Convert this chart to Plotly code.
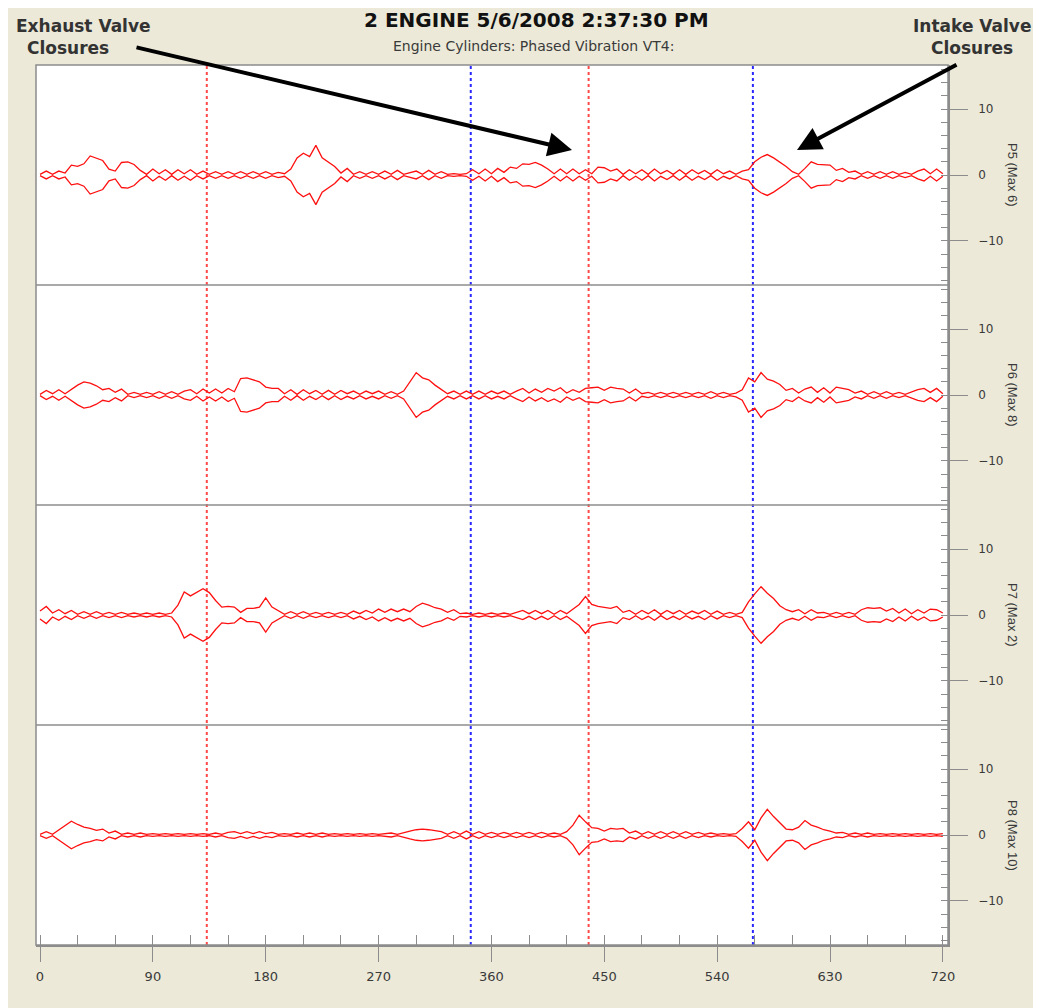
import numpy as np
import plotly.graph_objects as go
from plotly.subplots import make_subplots

# crank angle grid (degrees), one sample every 5 degrees
angle_step = 5
angles = list(range(0, 721, angle_step))

# envelope amplitudes (one value per 5 degrees, 0..720)
p5 = [0.1,0.6,0.1,0.6,0.3,1.5,1.3,1.7,2.9,2.5, 2.2,0.9,0.6,1.9,2.0,1.6,0.7,0.1,0.9,0.2,
      0.8,0.1,0.8,0.2,0.8,0.1,0.6,0.1,0.5,0.1, 0.5,0.1,0.5,0.1,0.5,0.1,0.5,0.1,0.4,0.2,
      0.9,2.6,3.3,2.8,4.5,2.6,2.0,1.3,0.3,1.0, 0.1,0.5,0.1,0.5,0.1,0.6,0.1,0.7,0.1,0.3,
      0.6,0.1,0.7,0.1,0.5,0.1,0.2,0.1,0.2,0.8, 0.2,0.9,0.2,1.0,0.4,1.2,1.0,1.7,1.6,1.9,
      1.5,0.9,0.2,0.9,0.2,0.9,0.2,0.8,0.2,1.2, 1.1,0.6,0.9,0.1,0.8,0.2,0.8,0.1,0.9,0.2,
      0.7,0.1,0.8,0.1,0.8,0.2,0.7,0.1,0.8,0.2, 0.6,0.1,0.6,0.8,2.0,2.7,3.1,2.6,2.0,1.3,
      0.5,0.1,1.0,2.0,1.6,1.6,1.5,0.7,1.0,0.4, 0.6,0.1,0.5,0.1,0.5,0.1,0.5,0.1,0.4,0.1,
      0.6,0.9,0.2,0.9,0.2]
p6 = [0.1,0.7,0.2,0.8,0.2,0.9,1.5,2.0,1.8,1.4, 0.8,1.0,0.4,0.9,0.1,0.4,0.1,0.4,0.1,0.5,
      0.1,0.5,0.1,0.6,0.8,0.2,0.9,0.3,0.9,0.3, 1.0,0.5,2.5,2.6,2.3,2.0,1.2,1.0,1.0,0.2,
      0.8,0.1,0.8,0.2,0.7,0.1,0.7,0.1,0.7,0.2, 0.6,0.1,0.6,0.2,0.6,0.1,0.5,0.1,0.6,2.0,
      3.4,2.6,2.3,1.5,0.8,0.2,0.6,0.1,0.6,0.1, 0.6,0.1,0.6,0.2,0.6,0.1,0.6,1.0,0.3,0.9,
      0.4,1.0,0.6,1.1,0.3,0.8,0.4,1.0,1.1,1.2, 0.7,1.2,1.0,0.9,0.3,0.9,0.2,0.4,0.1,0.4,
      0.1,0.4,0.1,0.4,0.1,0.4,0.1,0.5,0.1,0.4, 0.1,0.3,0.8,2.6,2.0,3.4,2.4,2.1,1.6,0.7,
      1.0,0.3,0.9,1.2,0.4,1.1,0.3,1.2,1.0,0.8, 0.3,0.6,0.1,0.5,0.1,0.5,0.1,0.4,0.1,0.5,
      0.8,1.0,0.4,1.0,0.2]
p7 = [0.6,1.3,0.3,0.8,0.2,0.7,0.1,0.5,0.1,0.5, 0.1,0.4,0.1,0.4,0.1,0.3,0.1,0.3,0.1,0.3,
      0.1,0.3,1.5,3.5,2.9,3.5,4.0,3.4,2.2,1.2, 1.3,1.2,0.4,1.0,1.0,1.2,2.6,1.2,0.6,0.1,
      0.5,0.1,0.5,0.1,0.4,0.1,0.4,0.1,0.4,0.1, 0.6,0.2,0.7,0.3,0.9,0.4,0.9,0.5,0.9,0.5,
      1.3,1.8,1.5,1.1,0.9,0.4,0.8,0.2,0.3,0.1, 0.3,0.1,0.3,0.1,0.3,0.1,0.4,0.7,0.2,0.7,
      0.2,0.7,0.1,0.7,0.2,0.9,1.6,2.8,1.6,1.3, 1.2,1.0,1.3,0.4,0.7,0.1,0.7,0.2,0.8,0.1,
      0.7,0.2,0.7,0.1,0.6,0.2,0.7,0.1,0.6,0.1, 0.4,0.1,0.4,2.0,3.2,4.3,3.3,2.5,1.4,0.8,
      0.5,0.8,0.2,0.8,0.3,0.4,0.1,0.4,0.1,0.4, 0.1,0.8,1.1,1.0,1.1,0.6,1.0,0.3,0.9,0.2,
      0.8,0.3,0.9,0.8,0.3]
p8 = [0.1,0.5,0.1,0.8,1.5,2.1,1.6,1.2,1.0,0.7, 0.9,0.3,0.6,0.1,0.3,0.1,0.3,0.1,0.2,0.1,
      0.2,0.1,0.2,0.1,0.2,0.1,0.2,0.1,0.3,0.1, 0.4,0.5,0.2,0.5,0.2,0.5,0.2,0.4,0.1,0.2,
      0.1,0.3,0.1,0.3,0.1,0.3,0.1,0.2,0.1,0.2, 0.1,0.2,0.1,0.2,0.1,0.2,0.3,0.1,0.4,0.6,
      0.8,0.9,0.8,0.6,0.5,0.1,0.5,0.1,0.6,0.1, 0.5,0.1,0.4,0.1,0.4,0.1,0.4,0.1,0.4,0.1,
      0.4,0.1,0.3,0.1,0.5,1.5,3.0,2.0,1.1,1.0, 0.6,1.0,0.9,1.0,0.3,0.6,0.1,0.5,0.1,0.5,
      0.1,0.5,0.1,0.5,0.1,0.4,0.1,0.3,0.1,0.2, 0.1,0.2,1.0,2.0,0.8,2.6,3.9,2.8,1.9,0.9,
      0.8,1.2,2.2,1.5,1.2,0.8,0.6,0.3,0.4,0.1, 0.3,0.1,0.3,0.1,0.2,0.1,0.2,0.1,0.2,0.1,
      0.2,0.1,0.2,0.1,0.2]

cylinders = ["P5 (Max 6)", "P6 (Max 8)", "P7 (Max 2)", "P8 (Max 10)"]
series = [p5, p6, p7, p8]

exhaust_closures = [133, 437.5]   # red markers
intake_closures = [343.5, 568.5]  # blue markers

x_ticks = list(range(0, 721, 90))
y_ticks = [-10, 0, 10]

title_text = "2 ENGINE 5/6/2008 2:37:30 PM"
subtitle_text = "Engine Cylinders: Phased Vibration VT4:"

# ---------------------------------------------------------------
OFF = 8                      # page body margin of the html page
W, H = 1041 - OFF, 1008 - OFF
L, R, T, B = 36, 948, 65, 945    # plot area in screenshot pixels
pw, ph = R - L, B - T

def px2paper(xp, yp):
    return (xp - L) / pw, (B - yp) / ph

fig = make_subplots(rows=4, cols=1, shared_xaxes=True, vertical_spacing=0)

for i, (name, amp) in enumerate(zip(cylinders, series)):
    a = np.array(amp)
    n = min(len(a), len(angles))
    for sgn in (1, -1):
        fig.add_trace(go.Scatter(x=angles[:n], y=sgn * a[:n], mode="lines",
                                 line=dict(color="#ff1010", width=1.3), hoverinfo="skip",
                                 showlegend=False), row=i + 1, col=1)

axis_gray = "#8c8c8c"
text_col = "#3a3a3a"
font_fam = "Liberation Sans, Arial, sans-serif"
wide_fam = "DejaVu Sans, Verdana, sans-serif"

for i in range(4):
    fig.update_yaxes(row=i + 1, col=1, range=[-16.7, 16.7], side="right",
                     tickvals=y_ticks, ticks="outside", ticklen=18, tickwidth=1,
                     tickcolor=axis_gray, showline=True, linecolor=axis_gray, linewidth=1.5,
                     showgrid=False, zeroline=False, ticklabelstandoff=8,
                     tickfont=dict(family=wide_fam, size=12, color=text_col),
                     minor=dict(dtick=2, tick0=0, ticks="inside", ticklen=7,
                                tickcolor=axis_gray, showgrid=False))
    fig.update_xaxes(row=i + 1, col=1, range=[-3.2, 724.1], showgrid=False,
                     zeroline=False, showline=False, ticks="", showticklabels=False)

fig.update_xaxes(row=4, col=1, tickvals=x_ticks, ticks="outside", ticklen=15,
                 tickwidth=1, tickcolor=axis_gray, showline=True, linecolor=axis_gray,
                 linewidth=1.5, showticklabels=True, ticklabelstandoff=4,
                 tickfont=dict(family=wide_fam, size=13, color=text_col),
                 minor=dict(dtick=30, tick0=0, ticks="inside", ticklen=10,
                            tickcolor=axis_gray, showgrid=False))

shapes = []
shapes.append(dict(type="rect", xref="paper", yref="paper", x0=0, x1=1, y0=0, y1=1,
                   line=dict(color=axis_gray, width=1.5), layer="above"))
for k in range(1, 4):
    shapes.append(dict(type="line", xref="paper", yref="paper", x0=0, x1=1,
                       y0=k / 4, y1=k / 4, line=dict(color=axis_gray, width=1.5),
                       layer="above"))
for xv in exhaust_closures:
    shapes.append(dict(type="line", xref="x", yref="paper", x0=xv, x1=xv, y0=0, y1=1,
                       line=dict(color="#ff4848", width=2, dash="3px,3px"), layer="below"))
for xv in intake_closures:
    shapes.append(dict(type="line", xref="x", yref="paper", x0=xv, x1=xv, y0=0, y1=1,
                       line=dict(color="#2828ff", width=2, dash="3px,3px"), layer="below"))

annotations = []
for i, name in enumerate(cylinders):
    yc = 1 - (i + 0.5) / 4
    annotations.append(dict(text=name, xref="paper", yref="paper", x=px2paper(1013, 0)[0],
                            y=yc, textangle=90, showarrow=False, xanchor="center",
                            yanchor="middle",
                            font=dict(family=font_fam, size=13, color=text_col)))

tx, ty = px2paper(536, 20)
annotations.append(dict(text="<b>" + title_text + "</b>", xref="paper", yref="paper",
                        x=tx, y=ty, showarrow=False, xanchor="center", yanchor="middle",
                        font=dict(family=wide_fam, size=20, color="#111111")))
sx, sy = px2paper(533, 46)
annotations.append(dict(text=subtitle_text, xref="paper", yref="paper", x=sx, y=sy,
                        showarrow=False, xanchor="center", yanchor="middle",
                        font=dict(family=wide_fam, size=14, color=text_col)))

lab_font = dict(family=wide_fam, size=17, color="#333333")
for txt, xp, yp, anc in [("<b>Exhaust Valve</b>", 14, 26, "left"),
                         ("<b>Closures</b>", 25, 48, "left"),
                         ("<b>Intake Valve</b>", 972, 26, "center"),
                         ("<b>Closures</b>", 972, 48, "center")]:
    ax_, ay_ = px2paper(xp, yp)
    annotations.append(dict(text=txt, xref="paper", yref="paper", x=ax_, y=ay_,
                            xanchor=anc, yanchor="middle", showarrow=False, font=lab_font))

for head, tail in [((572, 150), (135, 47)), ((797, 150), (958, 64))]:
    hx, hy = px2paper(*head)
    annotations.append(dict(text="", xref="paper", yref="paper", x=hx, y=hy,
                            ax=tail[0] - head[0], ay=tail[1] - head[1],
                            showarrow=True, arrowhead=2, arrowsize=1.2, arrowwidth=4,
                            arrowcolor="#000000"))

fig.update_layout(width=W, height=H,
                  margin=dict(l=L - OFF, r=1041 - R, t=T - OFF, b=1008 - B),
                  paper_bgcolor="#ece9d8", plot_bgcolor="#ffffff",
                  shapes=shapes, annotations=annotations, showlegend=False)

fig.write_html("out.html")
